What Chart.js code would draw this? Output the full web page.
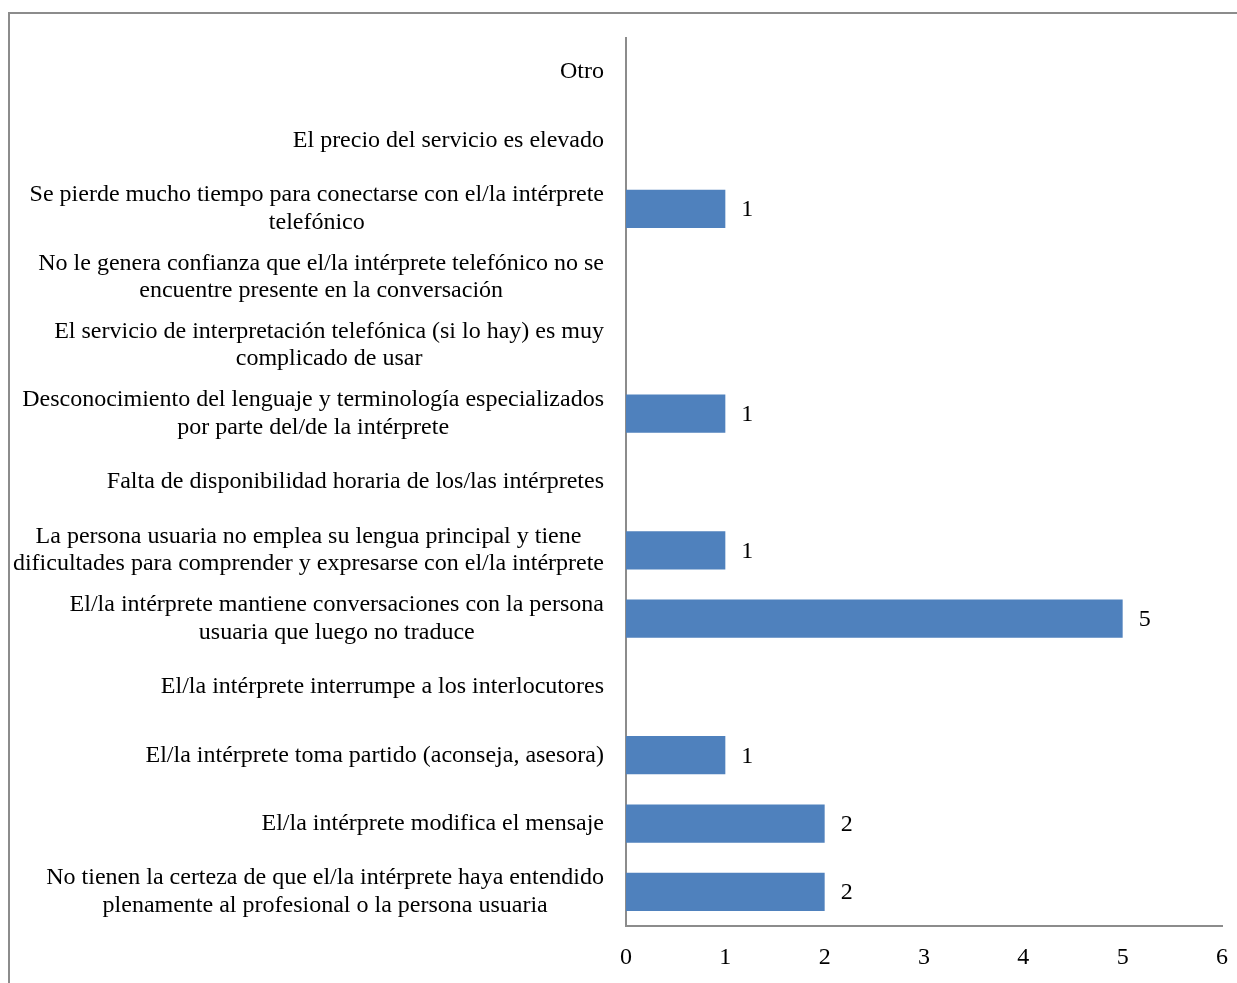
<!DOCTYPE html>
<html>
<head>
<meta charset="utf-8">
<script src="https://cdn.jsdelivr.net/npm/chart.js@4.4.1/dist/chart.umd.min.js"></script>
<style>
    html, body { margin: 0; padding: 0; background: #fff; }
    #wrap { position: relative; width: 1237px; height: 983px; overflow: hidden; }
    #frame { position: absolute; left: 8px; top: 12px; width: 1240px; height: 980px;
             border-top: 2px solid #8c8c8c; border-left: 2px solid #8c8c8c; }
    #chart { position: absolute; left: 0; top: 0; }
</style>
</head>
<body>
<div id="wrap">
    <div id="frame"></div>
    <canvas id="chart" width="1237" height="983"></canvas>
</div>
<script>
// categories, top to bottom (each entry = lines of the label)
const categories = [
    ["Otro"],
    ["El precio del servicio es elevado"],
    ["Se pierde mucho tiempo para conectarse con el/la intérprete", "telefónico"],
    ["No le genera confianza que el/la intérprete telefónico no se", "encuentre presente en la conversación"],
    ["El servicio de interpretación telefónica (si lo hay) es muy", "complicado de usar"],
    ["Desconocimiento del lenguaje y terminología especializados", "por parte del/de la intérprete"],
    ["Falta de disponibilidad horaria de los/las intérpretes"],
    ["La persona usuaria no emplea su lengua principal y tiene", "dificultades para comprender y expresarse con el/la intérprete"],
    ["El/la intérprete mantiene conversaciones con la persona", "usuaria que luego no traduce"],
    ["El/la intérprete interrumpe a los interlocutores"],
    ["El/la intérprete toma partido (aconseja, asesora)"],
    ["El/la intérprete modifica el mensaje"],
    ["No tienen la certeza de que el/la intérprete haya entendido", "plenamente al profesional o la persona usuaria"]
];
const values = [0, 0, 1, 0, 0, 1, 0, 1, 5, 0, 1, 2, 2];
const xTicks = [0, 1, 2, 3, 4, 5, 6];

const FONT = '"Liberation Serif", "Times New Roman", serif';
const FONT_SIZE = 24;

// category labels: block right-aligned, lines centred inside the block
const catLabels = {
    id: 'catLabels',
    afterDraw(chart) {
        const ctx = chart.ctx;
        const y = chart.scales.y;
        const right = y.right - 22;
        const lh = 27.5;
        ctx.save();
        ctx.font = FONT_SIZE + 'px ' + FONT;
        ctx.fillStyle = '#000';
        ctx.textBaseline = 'middle';
        ctx.textAlign = 'center';
        categories.forEach((lines, i) => {
            const cy = y.getPixelForValue(i);
            const w = Math.max(...lines.map(l => ctx.measureText(l).width));
            const cx = right - w / 2;
            const y0 = cy - (lines.length - 1) * lh / 2;
            lines.forEach((l, j) => ctx.fillText(l, cx, y0 + j * lh));
        });
        ctx.restore();
    }
};

// value labels after each non-zero bar
const valueLabels = {
    id: 'valueLabels',
    afterDatasetsDraw(chart) {
        const ctx = chart.ctx;
        const meta = chart.getDatasetMeta(0);
        ctx.save();
        ctx.font = FONT_SIZE + 'px ' + FONT;
        ctx.fillStyle = '#000';
        ctx.textBaseline = 'middle';
        ctx.textAlign = 'left';
        meta.data.forEach((bar, i) => {
            if (!values[i]) return;
            ctx.fillText(String(values[i]), bar.x + 16, bar.y + 1);
        });
        ctx.restore();
    }
};

new Chart(document.getElementById('chart'), {
    type: 'bar',
    data: {
        labels: categories,
        datasets: [{
            data: values,
            backgroundColor: '#4f81bd',
            borderWidth: 0,
            barPercentage: 0.56,
            categoryPercentage: 1
        }]
    },
    options: {
        indexAxis: 'y',
        responsive: false,
        animation: false,
        layout: { padding: { top: 38, right: 15, left: 0, bottom: 0 } },
        plugins: { legend: { display: false }, tooltip: { enabled: false } },
        scales: {
            y: {
                grid: { display: false, drawTicks: false },
                border: { display: true, color: '#8c8c8c', width: 2 },
                ticks: { display: false },
                afterFit(s) { s.width = 626; s.paddingTop = 0; s.paddingBottom = 0; }
            },
            x: {
                min: 0,
                max: 6,
                afterBuildTicks(s) { s.ticks = xTicks.map(v => ({ value: v })); },
                grid: { display: false, drawTicks: false },
                border: { display: true, color: '#8c8c8c', width: 2 },
                ticks: {
                    padding: 17,
                    color: '#000',
                    font: { family: FONT, size: FONT_SIZE }
                },
                afterFit(s) { s.height = 57; s.paddingLeft = 0; s.paddingRight = 0; }
            }
        }
    },
    plugins: [catLabels, valueLabels]
});
</script>
</body>
</html>
